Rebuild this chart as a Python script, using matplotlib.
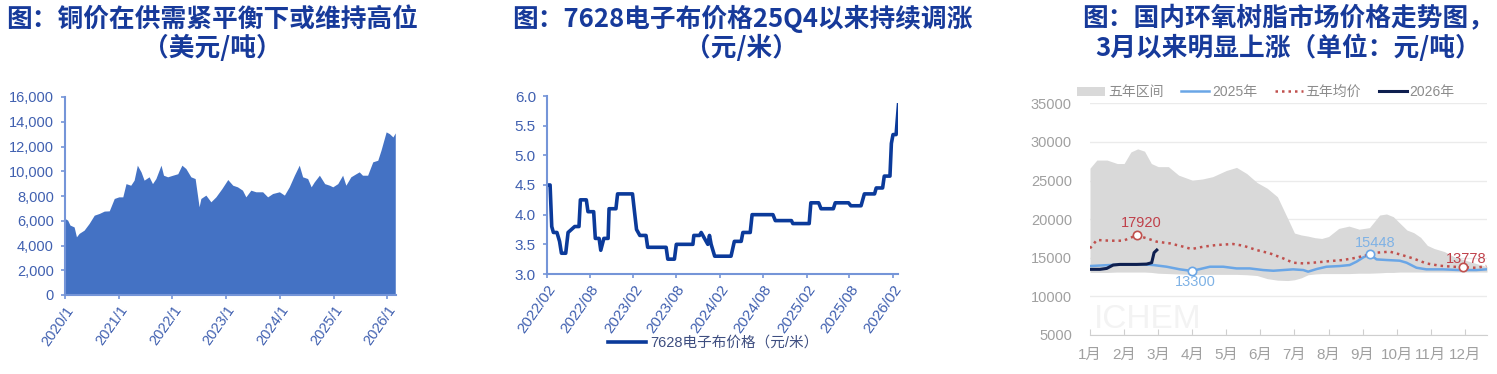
import matplotlib
matplotlib.use('Agg')
import matplotlib.pyplot as plt
import matplotlib.ticker as mticker
import pandas as pd
from matplotlib.lines import Line2D
from matplotlib.patches import Patch

plt.rcParams['font.family'] = ['Liberation Sans', 'Noto Sans CJK SC', 'DejaVu Sans']

# ---------------- Panel 1: copper price (USD/t) ----------------
copper_dates = ['2020-01-01', '2020-01-19', '2020-02-04', '2020-03-03', '2020-03-19', '2020-04-06',
                '2020-05-10', '2020-06-13', '2020-07-18', '2020-08-21', '2020-09-24', '2020-10-28',
                '2020-12-01', '2021-01-01', '2021-01-28', '2021-02-19', '2021-03-23', '2021-04-15',
                '2021-05-07', '2021-06-01', '2021-06-22', '2021-07-26', '2021-08-18', '2021-09-10',
                '2021-10-15', '2021-11-01', '2021-11-29', '2022-01-03', '2022-02-06', '2022-03-06',
                '2022-04-02', '2022-05-06', '2022-06-04', '2022-07-01', '2022-07-13', '2022-08-16',
                '2022-09-19', '2022-10-23', '2022-12-03', '2023-01-12', '2023-02-15', '2023-03-19',
                '2023-04-22', '2023-05-15', '2023-06-18', '2023-07-22', '2023-09-06', '2023-10-10',
                '2023-11-13', '2023-12-29', '2024-02-01', '2024-03-05', '2024-04-09', '2024-05-12',
                '2024-06-04', '2024-07-08', '2024-08-01', '2024-08-22', '2024-09-26', '2024-11-01',
                '2024-12-04', '2024-12-26', '2025-01-29', '2025-03-03', '2025-03-25', '2025-04-28',
                '2025-06-02', '2025-06-24', '2025-07-16', '2025-08-20', '2025-09-24', '2025-10-28',
                '2025-11-19', '2025-12-24', '2026-01-15', '2026-02-08', '2026-02-24']
copper_prices = [6180, 6050, 5650, 5500, 4700, 4980,
                 5240, 5780, 6450, 6590, 6780, 6800,
                 7800, 7930, 7930, 9000, 8870, 9280,
                 10490, 9950, 9280, 9550, 9000, 9410,
                 10490, 9680, 9550, 9680, 9800, 10490,
                 10220, 9550, 9410, 7130, 7800, 8070,
                 7530, 7930, 8600, 9330, 8870, 8740,
                 8470, 7930, 8470, 8340, 8340, 7930,
                 8200, 8340, 8070, 8740, 9680, 10490,
                 9550, 9410, 8740, 9140, 9680, 9000,
                 8870, 8740, 9000, 9680, 8870, 9550,
                 9800, 9950, 9680, 9680, 10760, 10890,
                 11700, 13180, 13040, 12770, 13100]
copper_ticks = ['2020-01-01', '2021-01-01', '2022-01-01', '2023-01-01', '2024-01-01', '2025-01-01', '2026-01-01']
copper_tick_labels = ['2020/1', '2021/1', '2022/1', '2023/1', '2024/1', '2025/1', '2026/1']

# ---------------- Panel 2: 7628 glass cloth price (CNY/m) ----------------
cloth_dates = ['2022-02-05', '2022-02-14', '2022-02-21', '2022-02-28', '2022-03-15', '2022-03-26',
               '2022-04-03', '2022-04-21', '2022-05-01', '2022-05-15', '2022-05-29', '2022-06-16',
               '2022-06-22', '2022-07-17', '2022-07-24', '2022-08-17', '2022-08-24', '2022-09-09',
               '2022-09-16', '2022-09-29', '2022-10-17', '2022-10-21', '2022-11-19', '2022-11-26',
               '2023-01-28', '2023-02-04', '2023-02-14', '2023-02-28', '2023-03-26', '2023-04-02',
               '2023-06-19', '2023-06-26', '2023-07-24', '2023-08-01', '2023-10-10', '2023-10-14',
               '2023-11-07', '2023-11-14', '2023-11-28', '2023-12-12', '2023-12-19', '2023-12-26',
               '2024-01-10', '2024-03-19', '2024-04-02', '2024-05-01', '2024-05-08', '2024-06-08',
               '2024-06-16', '2024-09-12', '2024-09-22', '2024-11-29', '2024-12-05', '2025-02-12',
               '2025-02-19', '2025-03-24', '2025-04-03', '2025-05-25', '2025-06-02', '2025-07-28',
               '2025-08-07', '2025-09-19', '2025-10-03', '2025-11-15', '2025-11-22', '2025-12-19',
               '2025-12-26', '2026-01-19', '2026-01-25', '2026-02-01', '2026-02-14', '2026-02-24']
cloth_prices = [4.5, 4.5, 3.8, 3.7, 3.7, 3.55,
                3.35, 3.35, 3.7, 3.75, 3.8, 3.8,
                4.25, 4.25, 4.05, 4.05, 3.6, 3.6,
                3.4, 3.6, 3.6, 4.1, 4.1, 4.35,
                4.35, 4.1, 3.75, 3.65, 3.65, 3.45,
                3.45, 3.25, 3.25, 3.5, 3.5, 3.65,
                3.65, 3.7, 3.6, 3.5, 3.65, 3.5,
                3.3, 3.3, 3.55, 3.55, 3.7, 3.7,
                4.0, 4.0, 3.9, 3.9, 3.85, 3.85,
                4.2, 4.2, 4.1, 4.1, 4.2, 4.2,
                4.15, 4.15, 4.35, 4.35, 4.45, 4.45,
                4.65, 4.65, 5.2, 5.35, 5.35, 5.85]
cloth_ticks = ['2022-02-01', '2022-08-01', '2023-02-01', '2023-08-01', '2024-02-01',
               '2024-08-01', '2025-02-01', '2025-08-01', '2026-02-01']
cloth_tick_labels = ['2022/02', '2022/08', '2023/02', '2023/08', '2024/02',
                     '2024/08', '2025/02', '2025/08', '2026/02']
cloth_label = '7628电子布价格（元/米）'

# ---------------- Panel 3: epoxy resin price (CNY/t) ----------------
band_x = [1.0, 1.2, 1.5, 1.8, 2.0, 2.2, 2.4, 2.6, 2.8, 3.0, 3.3, 3.6, 4.0, 4.3, 4.6, 5.0,
          5.3, 5.6, 5.9, 6.2, 6.5, 6.8, 7.0, 7.2, 7.4, 7.6, 7.8, 8.0, 8.3, 8.6, 8.9, 9.2,
          9.5, 9.7, 9.9, 10.1, 10.3, 10.5, 10.7, 10.9, 11.1, 11.4, 11.7, 12.0, 12.3, 12.65]
band_high = [26600, 27650, 27650, 27200, 27200, 28700, 29100, 28800, 27200, 26800, 26800, 25700,
             25050, 25200, 25500, 26300, 26700, 25900, 24750, 24000, 22900, 20100, 18200, 17950,
             17800, 17600, 17500, 17750, 18800, 19100, 18700, 18900, 20530, 20670, 20320, 19450,
             18590, 18250, 17650, 16600, 16200, 15800, 15100, 14700, 14300, 13840]
band_low = [13100, 13100, 13100, 13150, 13150, 13150, 13150, 13150, 13100, 13000, 12950, 12900,
            12850, 12850, 12850, 12850, 12850, 12800, 12700, 12300, 12100, 12050, 12150, 12400,
            12800, 12900, 12950, 12950, 12950, 12950, 13000, 13000, 13050, 13100, 13100, 13150,
            13150, 13150, 13150, 13150, 13150, 13150, 13150, 13150, 13150, 13150]
y2025_x = [1.0, 1.59, 2.08, 2.56, 2.86, 3.25, 3.64, 3.98, 4.23, 4.52, 4.91, 5.30, 5.69, 6.08,
           6.38, 6.67, 6.96, 7.26, 7.40, 7.65, 7.94, 8.33, 8.62, 8.82, 9.02, 9.21, 9.41, 9.70,
           10.09, 10.29, 10.58, 10.87, 11.36, 11.85, 12.34, 12.63]
y2025 = [13930, 14060, 14140, 14140, 14060, 13840, 13500, 13300, 13540, 13840, 13840, 13620,
         13620, 13410, 13320, 13410, 13500, 13410, 13200, 13540, 13840, 13930, 14060, 14490,
         15050, 15448, 14790, 14710, 14620, 14360, 13710, 13500, 13500, 13410, 13410, 13500]
avg5_x = [1.0, 1.2, 1.59, 1.98, 2.37, 2.76, 2.96, 3.35, 3.74, 3.98, 4.32, 4.71, 5.20, 5.50,
          5.89, 6.28, 6.67, 6.96, 7.26, 7.65, 8.04, 8.43, 8.82, 9.11, 9.41, 9.80, 10.09, 10.48,
          10.87, 11.26, 11.65, 11.95, 12.34, 12.63]
avg5 = [16220, 17300, 17210, 17210, 17920, 17380, 17080, 16860, 16430, 16130, 16430, 16650,
        16780, 16560, 16000, 15570, 14920, 14360, 14270, 14400, 14570, 14710, 15010, 15350,
        15660, 15790, 15440, 14920, 14270, 13970, 13840, 13778, 13700, 13930]
y2026_x = [1.0, 1.29, 1.49, 1.68, 1.88, 2.37, 2.66, 2.81, 2.88, 2.96]
y2026 = [13500, 13500, 13620, 14060, 14140, 14140, 14180, 14360, 15660, 16000]
month_labels = ['1月', '2月', '3月', '4月', '5月', '6月', '7月', '8月', '9月', '10月', '11月', '12月']
legend3_labels = ['五年区间', '2025年', '五年均价', '2026年']
marked_2025 = [3.98, 9.21]
marked_avg = [2.37, 11.95]

titles = [('图：铜价在供需紧平衡下或维持高位', '（美元/吨）'),
          ('图：7628电子布价格25Q4以来持续调涨', '（元/米）'),
          ('图：国内环氧树脂市场价格走势图，', '3月以来明显上涨（单位：元/吨）')]

W, H = 1497, 374
fig = plt.figure(figsize=(W / 100, H / 100), dpi=100)

def rect(l, r, b, t):
    return [l / W, 1 - b / H, (r - l) / W, (b - t) / H]

TITLE_C = '#173A9A'
title_x = [212, 742, 1288]
for (l1, l2), cx in zip(titles, title_x):
    for line, yy in ((l1, 19), (l2, 48)):
        fig.text(cx / W, 1 - yy / H, line, ha='center', va='center', fontsize=18.5,
                 fontweight='bold', color=TITLE_C,
                 family=['Noto Sans CJK SC', 'DejaVu Sans'])

TICK_C = '#4060B0'
SPINE_C = '#7595D8'

# Panel 1
ax1 = fig.add_axes(rect(65, 396, 295, 97))
cd = pd.to_datetime(copper_dates)
ax1.fill_between(cd, copper_prices, 0, color='#4472C4', linewidth=0)
ax1.set_ylim(0, 16000)
ax1.set_yticks(range(0, 16001, 2000))
ax1.yaxis.set_major_formatter(mticker.FuncFormatter(lambda v, p: f'{int(v):,}'))
ax1.set_xlim(pd.Timestamp('2020-01-01'), pd.Timestamp('2026-03-01'))
ax1.set_xticks(pd.to_datetime(copper_ticks))
ax1.set_xticklabels(copper_tick_labels, rotation=55, ha='right', rotation_mode='anchor')
for s in ['top', 'right']:
    ax1.spines[s].set_visible(False)
for s in ['left', 'bottom']:
    ax1.spines[s].set_color(SPINE_C)
    ax1.spines[s].set_linewidth(1.5)
ax1.tick_params(axis='both', colors=SPINE_C, labelcolor=TICK_C, labelsize=10.5, length=3, width=1.2)
ax1.tick_params(axis='y', pad=5)
ax1.tick_params(axis='x', pad=3)

# Panel 2
ax2 = fig.add_axes(rect(547, 898, 274, 96))
cdd = pd.to_datetime(cloth_dates)
ln, = ax2.plot(cdd, cloth_prices, color='#0B3A9A', linewidth=2.6, solid_joinstyle='round',
               label=cloth_label)
ax2.set_ylim(3.0, 6.0)
ax2.set_yticks([3.0, 3.5, 4.0, 4.5, 5.0, 5.5, 6.0])
ax2.yaxis.set_major_formatter(mticker.FormatStrFormatter('%.1f'))
ax2.set_xlim(pd.Timestamp('2022-02-01'), pd.Timestamp('2026-02-22'))
ax2.set_xticks(pd.to_datetime(cloth_ticks))
ax2.set_xticklabels(cloth_tick_labels, rotation=55, ha='right', rotation_mode='anchor')
for s in ['top', 'right']:
    ax2.spines[s].set_visible(False)
for s in ['left', 'bottom']:
    ax2.spines[s].set_color(SPINE_C)
    ax2.spines[s].set_linewidth(1.5)
ax2.tick_params(axis='both', colors=SPINE_C, labelcolor=TICK_C, labelsize=11, length=3, width=1.2)
ax2.tick_params(axis='y', pad=5)
ax2.tick_params(axis='x', pad=3)
ax2.legend(handles=[ln], loc='center', bbox_to_anchor=(713 / W, 1 - 343 / H),
           bbox_transform=fig.transFigure, frameon=False, fontsize=10.5,
           handlelength=2.6, handletextpad=0.3, labelcolor='#3E4E80')

# Panel 3
ax3 = fig.add_axes(rect(1090, 1487, 335, 103.3))
GRID_C = '#EBEBEB'
ax3.fill_between(band_x, band_low, band_high, color='#D9D9D9', linewidth=0, zorder=1)
ax3.plot(y2025_x, y2025, color='#6AA6E6', linewidth=1.8, zorder=3)
ax3.plot(avg5_x, avg5, color='#C0504D', linewidth=1.8, linestyle=(0, (1, 1.6)), zorder=3)
ax3.plot(y2026_x, y2026, color='#0E1F4F', linewidth=2.2, zorder=4)
for mx in marked_2025:
    i = y2025_x.index(mx)
    ax3.plot(mx, y2025[i], 'o', ms=6, mfc='white', mec='#6AA6E6', mew=1.2, zorder=5)
for mx in marked_avg:
    i = avg5_x.index(mx)
    ax3.plot(mx, avg5[i], 'o', ms=6, mfc='white', mec='#C0504D', mew=1.2, zorder=5)
ann = [(marked_avg[0], avg5[avg5_x.index(marked_avg[0])], '#C0404A', (3, 9)),
       (marked_2025[0], y2025[y2025_x.index(marked_2025[0])], '#7FB2E5', (3, -8)),
       (marked_2025[1], y2025[y2025_x.index(marked_2025[1])], '#7FB2E5', (4, 8)),
       (marked_avg[1], avg5[avg5_x.index(marked_avg[1])], '#C0404A', (2, 6))]
for x, v, c, off in ann:
    ax3.annotate(f'{v}', (x, v), xytext=off, textcoords='offset points', ha='center',
                 va='center', fontsize=10.5, color=c, zorder=6)
ax3.set_xlim(1, 12.65)
ax3.set_ylim(5000, 35000)
ax3.set_yticks(range(5000, 35001, 5000))
ax3.set_xticks(range(1, 13))
ax3.set_xticklabels(month_labels)
ax3.grid(axis='y', color=GRID_C, linewidth=1)
ax3.set_axisbelow(True)
for s in ['top', 'right', 'left']:
    ax3.spines[s].set_visible(False)
ax3.spines['bottom'].set_color('#CFCFCF')
ax3.tick_params(axis='y', length=0, pad=13, labelsize=10.5, labelcolor='#A0A0A0')
ax3.tick_params(axis='x', direction='in', length=4, color='#CFCFCF', pad=9, labelsize=11,
                labelcolor='#A0A0A0')
ax3.text(0.01, 0.0, 'ICHEM', transform=ax3.transAxes, fontsize=24, color='#F3F3F3',
         ha='left', va='bottom', zorder=0)
h3 = [Patch(facecolor='#D9D9D9', edgecolor='none'),
      Line2D([], [], color='#6AA6E6', linewidth=1.8),
      Line2D([], [], color='#C0504D', linewidth=1.8, linestyle=(0, (1, 1.6))),
      Line2D([], [], color='#0E1F4F', linewidth=2.2)]
ax3.legend(handles=h3, labels=legend3_labels, loc='center', ncol=4,
           bbox_to_anchor=(1266 / W, 1 - 92 / H), bbox_transform=fig.transFigure,
           frameon=False, fontsize=10, labelcolor='#8C8C8C', handlelength=2.0,
           handleheight=0.6, handletextpad=0.2, columnspacing=1.3)

fig.savefig('out.png', dpi=100)
